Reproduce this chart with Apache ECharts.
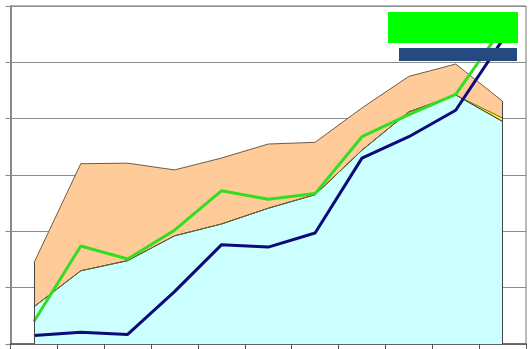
<!DOCTYPE html>
<html>
<head>
<meta charset="utf-8">
<script src="https://cdn.jsdelivr.net/npm/echarts@6/dist/echarts.min.js"></script>
<style>
  html, body { margin: 0; padding: 0; background: #ffffff; }
  #chart { width: 529px; height: 349px; }
</style>
</head>
<body>
<div id="chart"></div>
<script>
// Eleven periods along the horizontal axis
const categories = ['1', '2', '3', '4', '5', '6', '7', '8', '9', '10', '11'];

// Stacked bands: base (cyan), thin middle (yellow), upper (peach)
const baseBand   = [0.66, 1.30, 1.48, 1.92, 2.13, 2.41, 2.65, 3.44, 4.12, 4.42, 3.95];
const middleBand = [0, 0, 0, 0, 0, 0, 0, 0, 0, 0, 0.06];
const upperBand  = [0.78, 1.90, 1.73, 1.17, 1.17, 1.14, 0.93, 0.75, 0.63, 0.55, 0.30];

// Overlaid lines
const greenLine = [0.40, 1.74, 1.51, 2.02, 2.72, 2.57, 2.67, 3.68, 4.07, 4.43, 5.61];
const navyLine  = [0.15, 0.21, 0.17, 0.93, 1.76, 1.72, 1.97, 3.30, 3.68, 4.15, 5.40];

const yTicks = [0, 1, 2, 3, 4, 5, 6];

const last = categories.length - 1;
const stackTop = i => baseBand[i] + middleBand[i] + upperBand[i];

const chart = echarts.init(document.getElementById('chart'), null, { renderer: 'canvas' });

chart.setOption({
  animation: false,
  backgroundColor: '#ffffff',
  grid: {
    left: 10.5, right: 3, top: 6, bottom: 5,
    show: true, borderColor: '#777', borderWidth: 1, backgroundColor: 'transparent'
  },
  xAxis: {
    type: 'category',
    data: categories,
    boundaryGap: true,
    axisLine: { show: true, lineStyle: { color: '#555', width: 1.5 } },
    axisTick: { show: true, inside: false, length: 5, lineStyle: { color: '#555' } },
    axisLabel: { show: false },
    splitLine: { show: false }
  },
  yAxis: {
    type: 'value',
    min: yTicks[0],
    max: yTicks[yTicks.length - 1],
    interval: 1,
    axisLine: { show: true, lineStyle: { color: '#888', width: 2 } },
    axisTick: { show: true, length: 5, lineStyle: { color: '#888' } },
    axisLabel: { show: false },
    splitLine: { show: true, lineStyle: { color: '#8c8c8c', width: 1 } }
  },
  series: [
    {
      name: 'base', type: 'line', stack: 'bands', data: baseBand,
      symbol: 'none', z: 1,
      lineStyle: { color: '#222', width: 1 },
      areaStyle: { color: '#ccffff', opacity: 1 }
    },
    {
      name: 'middle', type: 'line', stack: 'bands', data: middleBand,
      symbol: 'none', z: 1,
      lineStyle: { color: '#6b6b2a', width: 1 },
      areaStyle: { color: '#ffff00', opacity: 1 }
    },
    {
      name: 'upper', type: 'line', stack: 'bands', data: upperBand,
      symbol: 'none', z: 1,
      lineStyle: { color: '#6e5a48', width: 1 },
      areaStyle: { color: '#ffcc99', opacity: 1 },
      markLine: {
        silent: true, symbol: 'none', label: { show: false },
        lineStyle: { color: '#444', width: 1, type: 'solid' },
        data: [
          [{ coord: [0, 0] }, { coord: [0, stackTop(0)] }],
          [{ coord: [last, 0] }, { coord: [last, stackTop(last)] }]
        ]
      }
    },
    {
      name: 'green', type: 'line', data: greenLine,
      symbol: 'none', z: 3,
      lineStyle: { color: '#33dd22', width: 3 }
    },
    {
      name: 'navy', type: 'line', data: navyLine,
      symbol: 'none', z: 4,
      lineStyle: { color: '#0a0a7a', width: 3 }
    }
  ],
  graphic: [
    { type: 'rect', z: 100, shape: { x: 388, y: 12, width: 130, height: 31 }, style: { fill: '#00ff00' } },
    { type: 'rect', z: 100, shape: { x: 399, y: 48, width: 118, height: 13 }, style: { fill: '#244a7f' } }
  ]
});
</script>
</body>
</html>
